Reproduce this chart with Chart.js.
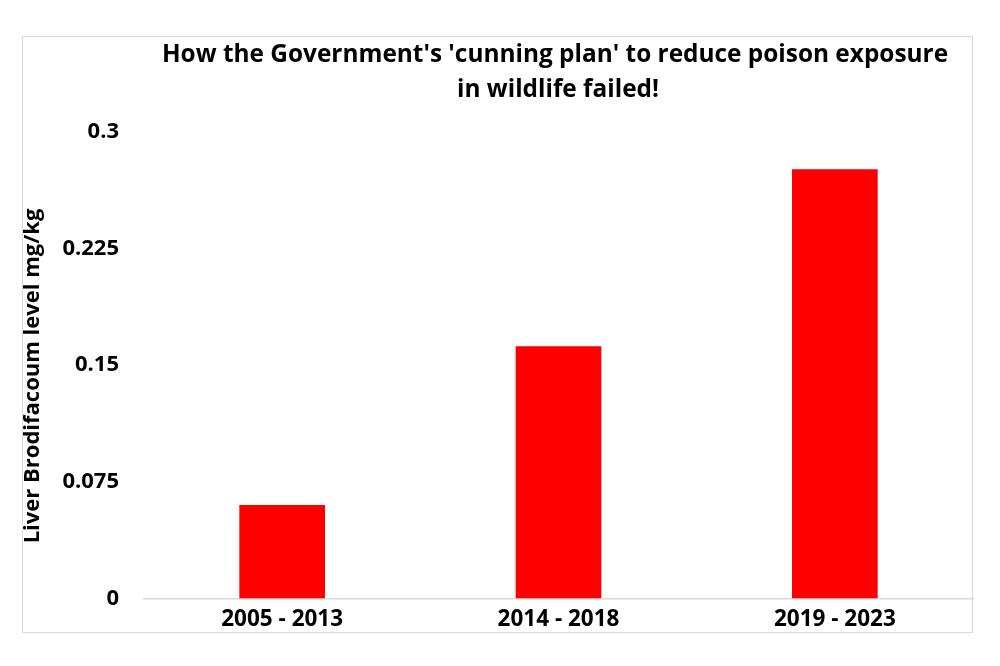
<!DOCTYPE html>
<html>
<head>
<meta charset="utf-8">
<title>Liver Brodifacoum level</title>
<script src="https://cdn.jsdelivr.net/npm/chart.js@4.4.1/dist/chart.umd.min.js"></script>
<style>
  html, body { margin: 0; padding: 0; background: #fff; }
  #wrap { position: relative; width: 1000px; height: 666px; }
  #frame {
    position: absolute; left: 22px; top: 36px; width: 951px; height: 597px;
    border: 1px solid #d9d9d9; box-sizing: border-box; pointer-events: none;
  }
</style>
</head>
<body>
<div id="wrap">
  <canvas id="chart" width="1000" height="666"></canvas>
  <div id="frame"></div>
</div>
<script>
/* ── Data ─────────────────────────────────────── */
const periods     = ['2005 - 2013', '2014 - 2018', '2019 - 2023'];
const liverLevels = [0.060, 0.162, 0.2757];
const yTicks      = [0, 0.075, 0.15, 0.225, 0.3];

const titleLines = ["How the Government's 'cunning plan' to reduce poison exposure", 'in wildlife failed!'];
const yTitle     = 'Liver Brodifacoum level mg/kg';

const FONT = '"Open Sans", "Noto Sans", sans-serif';

/* ── Titles drawn over the plot area ──────────── */
const titlePlugin = {
  id: 'titles',
  afterDraw(chart) {
    const { ctx } = chart;
    ctx.save();
    ctx.fillStyle = '#000';
    ctx.textAlign = 'center';
    ctx.textBaseline = 'alphabetic';
    ctx.font = 'bold 24.4px ' + FONT;
    ctx.fillText(titleLines[0], 555, 62);
    ctx.fillText(titleLines[1], 558, 97);

    ctx.translate(33, 376);
    ctx.rotate(-Math.PI / 2);
    ctx.textBaseline = 'middle';
    ctx.font = 'bold 22px ' + FONT;
    ctx.fillText(yTitle, 0, 0);
    ctx.restore();
  }
};

new Chart(document.getElementById('chart'), {
  type: 'bar',
  data: {
    labels: periods,
    datasets: [{
      data: liverLevels,
      backgroundColor: '#ff0000',
      borderWidth: 0,
      barPercentage: 0.31,
      categoryPercentage: 1.0,
    }]
  },
  options: {
    responsive: false,
    animation: false,
    layout: { padding: { left: 0, right: 27, top: 131.5, bottom: 0 } },
    plugins: { legend: { display: false }, tooltip: { enabled: false }, title: { display: false } },
    scales: {
      x: {
        afterFit: s => { s.height = 67.5; },
        grid: { display: false, drawTicks: false },
        border: { display: true, color: '#d9d9d9', width: 1.5 },
        ticks: { color: '#000', padding: 8, font: { family: FONT, size: 22.5, weight: 'bold' } }
      },
      y: {
        min: 0, max: 0.3,
        afterFit: s => { s.width = 144; },
        afterBuildTicks: s => { s.ticks = yTicks.map(v => ({ value: v })); },
        grid: { display: false, drawTicks: false },
        border: { display: false },
        ticks: {
          color: '#000', padding: 25,
          font: { family: FONT, size: 22, weight: 'bold' },
          callback: v => String(v)
        }
      }
    }
  },
  plugins: [titlePlugin]
});
</script>
</body>
</html>
